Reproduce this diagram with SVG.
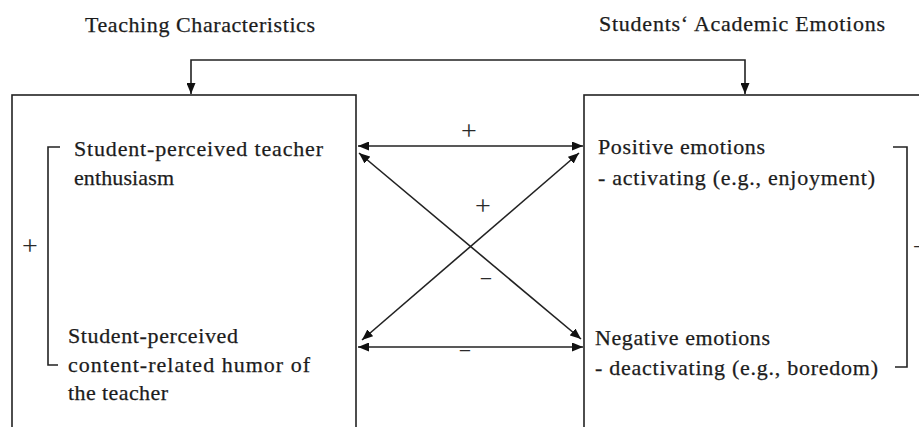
<svg xmlns="http://www.w3.org/2000/svg" width="919" height="427" viewBox="0 0 919 427">
<style>
  .t { font-family: "Liberation Serif", "Times New Roman", serif; font-size: 22px; fill: #1c1c1c; stroke: #1c1c1c; stroke-width: 0.25; }
  .p { font-family: "Liberation Serif", "Times New Roman", serif; font-size: 28px; fill: #2a2a2a; }
  .m { font-family: "Liberation Serif", "Times New Roman", serif; font-size: 22px; fill: #2a2a2a; }
  .box { fill: none; stroke: #222; stroke-width: 1.6; }
  .ln { fill: none; stroke: #222; stroke-width: 1.6; }
</style>
<defs>
  <marker id="ah" viewBox="0 0 11 9" refX="11" refY="4.5" markerWidth="11" markerHeight="9" markerUnits="userSpaceOnUse" orient="auto-start-reverse">
    <path d="M0,0 L11,4.5 L0,9 z" fill="#111"/>
  </marker>
</defs>
<rect width="919" height="427" fill="#fff"/>

<g id="title-left"><text class="t" x="85" y="32" textLength="230" lengthAdjust="spacing">Teaching Characteristics</text></g>
<g id="title-right"><text class="t" x="599" y="31" textLength="286" lengthAdjust="spacing">Students‘ Academic Emotions</text></g>

<g id="teaching">
  <rect class="box" x="12" y="95" width="344" height="350"/>
  <text class="t" x="74" y="156" textLength="249" lengthAdjust="spacing">Student-perceived teacher</text>
  <text class="t" x="74" y="185" textLength="100" lengthAdjust="spacing">enthusiasm</text>
  <text class="t" x="68" y="343" textLength="170" lengthAdjust="spacing">Student-perceived</text>
  <text class="t" x="68" y="372" textLength="242" lengthAdjust="spacing">content-related humor of</text>
  <text class="t" x="68" y="400" textLength="100" lengthAdjust="spacing">the teacher</text>
  <path class="ln" d="M60 147 L48 147 L48 365 L58 365"/>
  <text class="p" x="30" y="255" text-anchor="middle">+</text>
</g>

<g id="emotions">
  <rect class="box" x="584" y="95" width="360" height="350"/>
  <text class="t" x="598" y="154" textLength="167" lengthAdjust="spacing">Positive emotions</text>
  <text class="t" x="598" y="185" textLength="277" lengthAdjust="spacing">- activating (e.g., enjoyment)</text>
  <text class="t" x="595" y="345" textLength="175" lengthAdjust="spacing">Negative emotions</text>
  <text class="t" x="595" y="375" textLength="283" lengthAdjust="spacing">- deactivating (e.g., boredom)</text>
  <path class="ln" d="M893 147 L907 147 L907 367 L895 367"/>
  <text class="m" x="913" y="254">−</text>
</g>

<g id="connectors">
  <path class="ln" d="M191 94 L191 60 L745 60 L745 94" marker-start="url(#ah)" marker-end="url(#ah)"/>
  <line class="ln" x1="358" y1="146" x2="583" y2="146" marker-start="url(#ah)" marker-end="url(#ah)"/>
  <line class="ln" x1="358" y1="347" x2="583" y2="347" marker-start="url(#ah)" marker-end="url(#ah)"/>
  <line class="ln" x1="359" y1="153" x2="581" y2="339" marker-start="url(#ah)" marker-end="url(#ah)"/>
  <line class="ln" x1="362" y1="340" x2="579" y2="153" marker-start="url(#ah)" marker-end="url(#ah)"/>
  <text class="p" x="469" y="140" text-anchor="middle">+</text>
  <text class="p" x="483" y="215" text-anchor="middle">+</text>
  <text class="m" x="486" y="286" text-anchor="middle">−</text>
  <text class="m" x="465" y="358" text-anchor="middle">−</text>
</g>
</svg>
